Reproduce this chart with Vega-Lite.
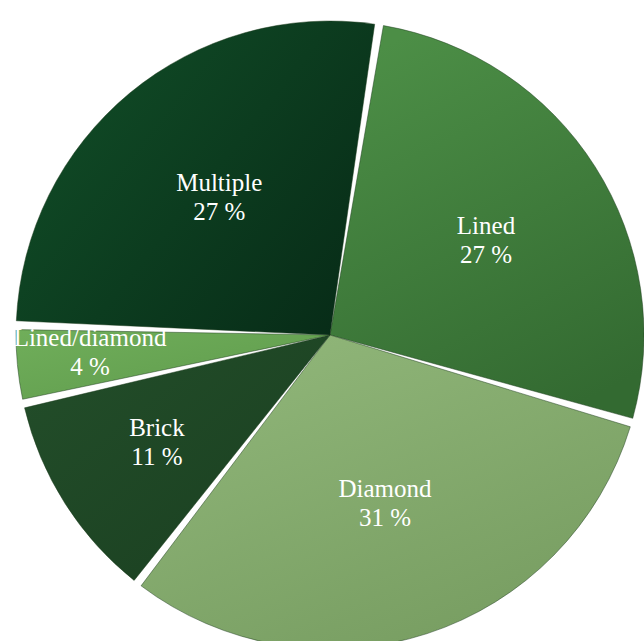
{
  "$schema": "https://vega.github.io/schema/vega-lite/v6.json",
  "width": 644,
  "height": 641,
  "autosize": {"type": "fit", "contains": "padding"},
  "padding": {"left": 16, "top": 29, "right": 0, "bottom": 0},
  "background": "white",
  "data": {
    "values": [
      {"type": "Lined", "value": 27, "order": 1},
      {"type": "Diamond", "value": 31, "order": 2},
      {"type": "Brick", "value": 11, "order": 3},
      {"type": "Lined/diamond", "value": 4, "order": 4},
      {"type": "Multiple", "value": 27, "order": 5}
    ]
  },
  "transform": [
    {"stack": "value", "sort": [{"field": "order", "order": "ascending"}], "groupby": [], "as": ["v0", "v1"]},
    {"calculate": "(datum.v0 + datum.v1) / 2", "as": "vm"},
    {"calculate": "datum.type + '\\n' + datum.value + ' %'", "as": "label"}
  ],
  "layer": [
    {
      "mark": {"type": "arc", "outerRadius": 314, "padAngle": 0.028, "stroke": "#1c3a1c", "strokeWidth": 0.8, "strokeOpacity": 0.6},
      "encoding": {
        "theta": {"field": "v0", "type": "quantitative", "scale": {"domain": [0, 100], "range": [0.157, 6.440]}},
        "theta2": {"field": "v1"},
        "color": {
          "condition": [
            {"test": "datum.type === 'Lined'", "value": {"gradient": "linear", "x1": 0.3, "y1": 0, "x2": 0.7, "y2": 1, "stops": [{"offset": 0, "color": "#4c8e46"}, {"offset": 1, "color": "#336a31"}]}},
            {"test": "datum.type === 'Diamond'", "value": {"gradient": "linear", "x1": 0.2, "y1": 0, "x2": 0.8, "y2": 1, "stops": [{"offset": 0, "color": "#90b679"}, {"offset": 1, "color": "#769c60"}]}},
            {"test": "datum.type === 'Brick'", "value": {"gradient": "linear", "x1": 0, "y1": 0, "x2": 1, "y2": 1, "stops": [{"offset": 0, "color": "#234e2a"}, {"offset": 1, "color": "#1a3f20"}]}},
            {"test": "datum.type === 'Lined/diamond'", "value": {"gradient": "linear", "x1": 0, "y1": 0, "x2": 1, "y2": 1, "stops": [{"offset": 0, "color": "#70ae5a"}, {"offset": 1, "color": "#5e9a4c"}]}}
          ],
          "value": {"gradient": "linear", "x1": 0, "y1": 0.2, "x2": 1, "y2": 0.9, "stops": [{"offset": 0, "color": "#114d27"}, {"offset": 1, "color": "#072b17"}]}
        }
      }
    },
    {
      "transform": [{"filter": "datum.type === 'Lined' || datum.type === 'Multiple'"}],
      "mark": {"type": "text", "font": "Liberation Serif", "fontSize": 25, "fill": "white", "lineBreak": "\n", "align": "center", "baseline": "middle", "lineHeight": 29, "dy": -13, "dx": 4},
      "encoding": {
        "theta": {"field": "vm", "type": "quantitative", "scale": {"domain": [0, 100], "range": [0.157, 6.440]}},
        "text": {"field": "label"},
        "radius": {"value": 180}
      }
    },
    {
      "transform": [{"filter": "datum.type === 'Diamond'"}],
      "mark": {"type": "text", "font": "Liberation Serif", "fontSize": 25, "fill": "white", "lineBreak": "\n", "align": "center", "baseline": "middle", "lineHeight": 29, "dy": -15},
      "encoding": {
        "theta": {"field": "vm", "type": "quantitative", "scale": {"domain": [0, 100], "range": [0.157, 6.440]}},
        "text": {"field": "label"},
        "radius": {"value": 178}
      }
    },
    {
      "transform": [{"filter": "datum.type === 'Brick'"}],
      "mark": {"type": "text", "font": "Liberation Serif", "fontSize": 25, "fill": "white", "lineBreak": "\n", "align": "center", "baseline": "middle", "lineHeight": 29, "dy": -17},
      "encoding": {
        "theta": {"field": "vm", "type": "quantitative", "scale": {"domain": [0, 100], "range": [0.157, 6.440]}},
        "text": {"field": "label"},
        "radius": {"value": 205}
      }
    },
    {
      "transform": [{"filter": "datum.type === 'Lined/diamond'"}],
      "mark": {"type": "text", "font": "Liberation Serif", "fontSize": 25, "fill": "white", "lineBreak": "\n", "align": "center", "baseline": "middle", "lineHeight": 29, "thetaOffset": 0.08},
      "encoding": {
        "theta": {"field": "vm", "type": "quantitative", "scale": {"domain": [0, 100], "range": [0.157, 6.440]}},
        "text": {"field": "label"},
        "radius": {"value": 240}
      }
    }
  ]
}
